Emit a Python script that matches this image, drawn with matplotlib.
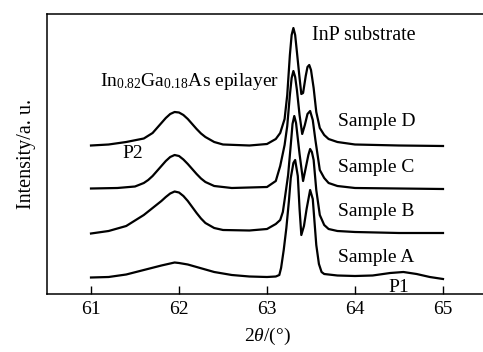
import numpy as np
import matplotlib
matplotlib.use('Agg')
import matplotlib.pyplot as plt

plt.rcParams['font.family'] = 'Liberation Serif'
plt.rcParams['mathtext.fontset'] = 'custom'
plt.rcParams['mathtext.rm'] = 'Liberation Serif'
plt.rcParams['mathtext.it'] = 'Liberation Serif:italic'

# XRD curves (2theta in degrees, intensity in arbitrary units)
x_d = [61.0, 61.2, 61.4, 61.6, 61.7, 61.75, 61.8, 61.85, 61.9, 61.95, 62.0, 62.05, 62.1, 62.15,
       62.2, 62.25, 62.3, 62.4, 62.5, 62.8, 63.0, 63.1, 63.15, 63.2, 63.23, 63.26, 63.28, 63.3,
       63.32, 63.34, 63.37, 63.39, 63.41, 63.44, 63.46, 63.48, 63.5, 63.53, 63.56, 63.6, 63.65,
       63.7, 63.8, 64.0, 64.5, 65.0]
y_d = [148.5, 149.5, 152, 155.5, 161, 166, 171, 176, 180, 182, 181.5, 179, 175, 170,
       165, 160.5, 157, 152, 149.5, 148.5, 150, 155, 161, 175, 199, 239, 259, 266,
       259, 242, 216, 200, 201, 218, 227, 229, 224, 206, 182, 166, 159,
       155, 152, 149.5, 148.5, 148]

x_c = [61.0, 61.3, 61.5, 61.6, 61.65, 61.7, 61.75, 61.8, 61.85, 61.9, 61.95, 62.0, 62.05, 62.1,
       62.15, 62.2, 62.25, 62.3, 62.4, 62.6, 63.0, 63.1, 63.15, 63.2, 63.23, 63.26, 63.28, 63.3,
       63.32, 63.34, 63.37, 63.4, 63.43, 63.46, 63.49, 63.52, 63.55, 63.6, 63.65, 63.7, 63.8,
       64.0, 65.0]
y_c = [105.5, 106, 107.5, 111, 114, 118, 123, 128, 133, 137, 139, 138, 134.5, 130,
       125, 120, 115.5, 112, 108, 106, 107, 113, 128, 149, 168, 199, 216, 223,
       217, 204, 179, 160, 169, 180, 183, 174, 154, 124, 116, 111, 108,
       106, 105]

x_b = [61.0, 61.2, 61.4, 61.6, 61.7, 61.8, 61.85, 61.9, 61.95, 62.0, 62.05, 62.1, 62.15, 62.2,
       62.25, 62.3, 62.4, 62.5, 62.8, 63.0, 63.1, 63.15, 63.18, 63.2, 63.24, 63.27, 63.29, 63.31,
       63.33, 63.37, 63.41, 63.44, 63.47, 63.49, 63.51, 63.53, 63.56, 63.6, 63.65, 63.7, 63.8,
       64.0, 64.5, 65.0]
y_b = [60.5, 63, 68, 79, 86, 93, 97, 100.5, 102.5, 101.5, 98, 93, 87, 81,
       75.5, 71, 66, 64, 63.5, 65, 70, 74, 82, 94, 119, 149, 170, 178,
       171, 140, 113, 126, 139, 145, 142, 134, 104, 79, 69, 65, 63,
       62, 61, 61]

x_a = [61.0, 61.2, 61.4, 61.6, 61.8, 61.9, 61.95, 62.0, 62.1, 62.2, 62.4, 62.6, 62.8, 63.0,
       63.1, 63.14, 63.16, 63.19, 63.22, 63.25, 63.27, 63.3, 63.32, 63.35, 63.37, 63.39, 63.42,
       63.45, 63.49, 63.52, 63.56, 63.59, 63.62, 63.65, 63.8, 64.0, 64.2, 64.4, 64.55, 64.7,
       64.85, 65.0]
y_a = [16.5, 17, 19.5, 24, 28.5, 30.5, 31.5, 31, 29.5, 27, 22, 19, 17.5, 17,
       17.5, 19, 26, 44, 66, 94, 116, 131, 134, 118, 85, 59, 68,
       85, 104, 95, 49, 30, 22, 20, 18.5, 18, 18.5, 21, 22, 20,
       17, 15]

sample_names = ['Sample D', 'Sample C', 'Sample B', 'Sample A']
label_y = [173, 127, 83, 37]

fig = plt.figure(figsize=(4.83, 3.52), dpi=100)
ax = fig.add_axes([47 / 483, 1 - 294 / 352, 440 / 483, 280 / 352])

for xs, ys in [(x_d, y_d), (x_c, y_c), (x_b, y_b), (x_a, y_a)]:
    ax.plot(xs, ys, color='black', lw=1.6, solid_joinstyle='round')

for name, yl in zip(sample_names, label_y):
    ax.text(63.81, yl, name, fontsize=14, va='center', ha='left')

ax.text(63.51, 259, 'InP substrate', fontsize=14.5, va='center', ha='left')
ax.text(61.10, 212, r'In$_{\mathregular{0.82}}$Ga$_{\mathregular{0.18}}$As epilayer',
        fontsize=14, va='center', ha='left')
ax.text(61.48, 140, 'P2', fontsize=14, va='center', ha='center')
ax.text(64.5, 7, 'P1', fontsize=14, va='center', ha='center')

ax.set_xlim(60.5, 65.5)
ax.set_ylim(0, 280)
ax.set_xticks([61, 62, 63, 64, 65])
ax.set_yticks([])
ax.tick_params(axis='x', direction='in', length=6, width=1, pad=5, labelsize=14)
for s in ax.spines.values():
    s.set_linewidth(1.1)

ax.set_xlabel(r'2$\theta$/(°)', fontsize=14, labelpad=6)
ax.set_ylabel('Intensity/a. u.', fontsize=14.5, labelpad=8)

fig.savefig('out.png', dpi=100)
